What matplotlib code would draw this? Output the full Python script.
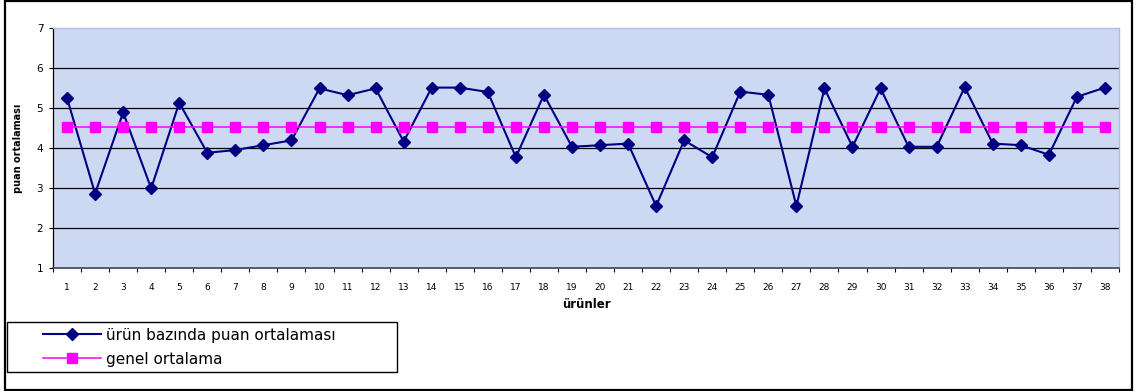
import matplotlib
matplotlib.use("Agg")
import matplotlib.pyplot as plt
from matplotlib.patches import Rectangle
import numpy as np

plt.rcParams['font.family'] = ['DejaVu Sans']

categories = [str(i) for i in range(1, 39)]
urun_ortalama = [5.25, 2.86, 4.89, 2.99, 5.13, 3.88, 3.95, 4.07, 4.19, 5.49,
                 5.32, 5.49, 4.16, 5.51, 5.51, 5.40, 3.77, 5.33, 4.03, 4.07,
                 4.11, 2.55, 4.19, 3.77, 5.41, 5.33, 2.55, 5.49, 4.03, 5.49,
                 4.03, 4.03, 5.52, 4.11, 4.07, 3.83, 5.28, 5.51]
genel_ortalama = [4.52] * 38
yticks = [1, 2, 3, 4, 5, 6, 7]

W, H = 1140, 391
fig = plt.figure(figsize=(W / 100, H / 100), dpi=100)
fig.patch.set_facecolor('white')

# outer border
fig.patches.append(Rectangle((5 / W, 1 - 390 / H), (1132 - 5) / W, (389) / H,
                             transform=fig.transFigure, fill=False,
                             edgecolor='black', linewidth=1.6, zorder=10))

ax = fig.add_axes([53 / W, 1 - 268 / H, (1119 - 53) / W, (268 - 28) / H])
ax.set_facecolor('#cdd9f3')

x = np.arange(len(categories))
ax.plot(x, urun_ortalama, color='#000080', linewidth=1.5, marker='D',
        markersize=6, markerfacecolor='#000080', markeredgecolor='#000080',
        label='ürün bazında puan ortalaması', zorder=3)
ax.plot(x, genel_ortalama, color='#ff00ff', linewidth=1.1, marker='s',
        markersize=7.5, markerfacecolor='#ff00ff', markeredgecolor='#ff00ff',
        label='genel ortalama', zorder=4)

ax.set_xlim(-0.5, len(categories) - 0.5)
ax.set_ylim(1, 7)
ax.set_yticks(yticks)
ax.set_yticklabels([str(v) for v in yticks], fontsize=7.5)
ax.set_xticks(x)
ax.set_xticklabels(categories, fontsize=6.5)
ax.set_xticks(np.arange(len(categories) + 1) - 0.5, minor=True)
ax.tick_params(axis='x', which='major', length=0, pad=11)
ax.tick_params(axis='x', which='minor', length=3, width=0.8, direction='out', color='black')
ax.tick_params(axis='y', length=3, width=0.8, direction='out', pad=4)

for v in yticks[1:-1]:
    ax.axhline(v, color='black', linewidth=0.9, zorder=1)

for s in ['top', 'right']:
    ax.spines[s].set_color('#b8b8e8')
    ax.spines[s].set_linewidth(1)
ax.spines['left'].set_color('black')
ax.spines['left'].set_linewidth(0.9)
ax.spines['bottom'].set_color('#404060')
ax.spines['bottom'].set_linewidth(1.2)

ax.set_xlabel('ürünler', fontsize=8.5, fontweight='bold', labelpad=4)
ax.set_ylabel('puan ortalaması', fontsize=7, fontweight='bold', labelpad=10)

# legend box
fig.patches.append(Rectangle((7 / W, 1 - 372 / H), 390 / W, 50 / H,
                             transform=fig.transFigure, fill=False,
                             edgecolor='black', linewidth=1.0, zorder=10))
handles, labels = ax.get_legend_handles_labels()
leg = fig.legend(handles, labels, loc='upper left',
                 bbox_to_anchor=(41 / W, 1 - 326 / H), frameon=False,
                 fontsize=11, handlelength=3.8, handletextpad=0.35,
                 labelspacing=0.6, borderpad=0.1, borderaxespad=0)

fig.savefig('out.png', dpi=100)
